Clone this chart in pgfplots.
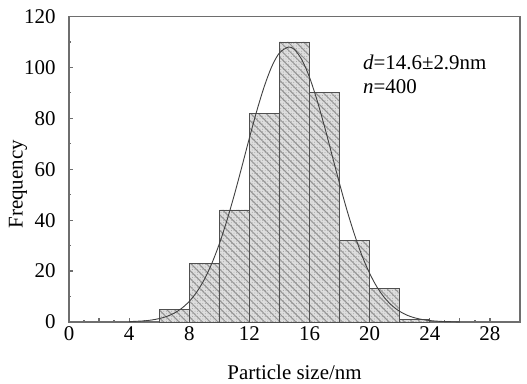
\documentclass[border=0pt]{standalone}
\usepackage{fontspec}
\setmainfont{Liberation Serif}
\usepackage{pgfplots}
\pgfplotsset{compat=1.18}
\usetikzlibrary{patterns.meta}
\definecolor{axgray}{RGB}{110,110,110}
\definecolor{barfill}{RGB}{222,222,222}
\definecolor{baredge}{RGB}{80,80,80}
\begin{document}
\begin{tikzpicture}
\useasboundingbox (-69bp,-62bp) rectangle (458bp,322bp);
\begin{axis}[
  at={(0,0)}, anchor=south west,
  scale only axis, width=451bp, height=305.5bp,
  xmin=0, xmax=30, ymin=0, ymax=120,
  axis line style={axgray, line width=1.3bp},
  every tick/.style={axgray, line width=1.2bp},
  tick align=inside,
  xtick pos=lower, ytick pos=left,
  xtick={0,2,...,28}, xticklabels={0,,4,,8,,12,,16,,20,,24,,28},
  minor x tick num=1,
  ytick={0,20,...,120}, minor y tick num=1,
  major tick length=4bp, minor tick length=2.5bp,
  /pgf/number format/assume math mode=true,
  tick label style={font=\fontsize{21}{21}\selectfont},
  xticklabel style={yshift=-1bp},
  every y tick label/.append style={font=\fontsize{21}{21}\selectfont, xshift=-10bp},
  xlabel={Particle size/nm},
  ylabel={Frequency},
  xlabel style={font=\fontsize{21}{21}\selectfont, anchor=center, at={(axis description cs:0.5,0)}, yshift=-50bp},
  ylabel style={font=\fontsize{21}{21}\selectfont, anchor=center, at={(axis description cs:0,0.5)}, yshift=51bp, xshift=-15bp},
]
\addplot[ybar interval, draw=baredge, line width=0.9bp, fill=barfill,
  postaction={pattern={Dots[distance=2.6bp, radius=0.45bp]}, pattern color=gray!80},
  postaction={pattern={Lines[angle=-45, distance=5.5bp, line width=1bp]}, pattern color=gray!85}]
  coordinates {(6,5) (8,23) (10,44) (12,82) (14,110) (16,90) (18,32) (20,13) (22,1) (24,1)};
\addplot[smooth, draw=black!75, line width=0.9bp] coordinates {
(4,0.14) (5,0.45) (5.5,0.79) (6,1.33) (6.5,2.18) (7,3.48) (7.5,5.39) (8,8.10)
(8.5,11.8) (9,16.7) (9.5,23.0) (10,30.7) (10.5,39.8) (11,50.0) (11.5,61.0)
(12,72.3) (12.5,83.1) (13,92.7) (13.5,100.5) (14,105.7) (14.6,108) (15,107.0)
(15.5,102.9) (16,96.1) (16.5,87.1) (17,76.7) (17.5,65.5) (18,54.3) (18.5,43.7)
(19,34.2) (19.5,25.9) (20,19.1) (20.5,13.6) (21,9.46) (21.5,6.37) (22,4.16)
(22.5,2.64) (23,1.63) (23.5,0.97) (24,0.57) (24.5,0.32) (25,0.17) (26,0.05)};
\node[anchor=west, font=\fontsize{21}{21}\selectfont, inner sep=0pt] at (axis cs:19.55,102) {\textit{d}=14.6±2.9nm};
\node[anchor=west, font=\fontsize{21}{21}\selectfont, inner sep=0pt] at (axis cs:19.55,92.6) {\textit{n}=400};
\end{axis}
\end{tikzpicture}
\end{document}
